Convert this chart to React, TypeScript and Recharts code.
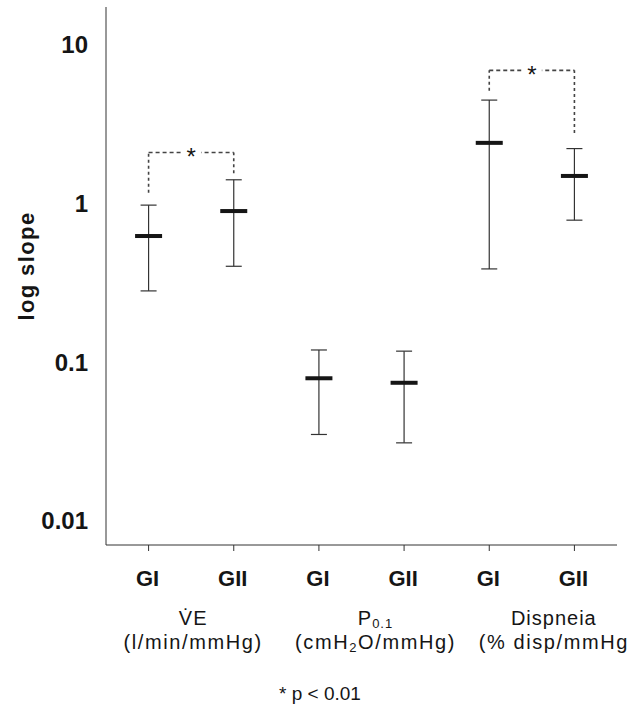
import { ComposedChart, Scatter, ErrorBar, XAxis, YAxis, ReferenceLine } from 'recharts';

// six boxes: GI / GII for each measure
const ids = ['ve-GI', 've-GII', 'p-GI', 'p-GII', 'd-GI', 'd-GII'];
const tickLabels = ['GI', 'GII', 'GI', 'GII', 'GI', 'GII'];
const medians = [0.62, 0.89, 0.079, 0.074, 2.39, 1.48];
const lowers = [0.28, 0.4, 0.035, 0.031, 0.385, 0.78];
const uppers = [0.97, 1.4, 0.119, 0.117, 4.44, 2.2];

// group captions (odd parts are subscripts)
const groupTitles = [['V\u0307E'], ['P', '0.1'], ['Dispneia']];
const groupUnits = [['(l/min/mmHg)'], ['(cmH', '2', 'O/mmHg)'], ['(% disp/mmHg']];

const yTicks = [0.01, 0.1, 1, 10];

// significance brackets
const bracketFrom = ['ve-GI', 'd-GI'];
const bracketTo = ['ve-GII', 'd-GII'];
const bracketTop = [2.08, 6.83];
const bracketLeftEnd = [1.16, 5.08];
const bracketRightEnd = [1.54, 2.76];

// captions sit a little right of the pair centre in the original
const captionShift = [2, 14, 22];

const data = ids.map((id, i) => ({
  id,
  median: medians[i],
  err: [medians[i] - lowers[i], uppers[i] - medians[i]],
}));

const FONT = '"Liberation Sans", Arial, Helvetica, sans-serif';
const INK = '#151515';

function parts(list: string[]) {
  return list.map((s, k) =>
    k % 2 === 1 ? (
      <tspan key={k} dy={3} fontSize={13}>{s}</tspan>
    ) : (
      <tspan key={k} dy={k > 0 ? -3 : 0}>{s}</tspan>
    )
  );
}

function CategoryTick(props: any) {
  const { x, y, payload } = props;
  const i = payload.index ?? props.index;
  const half = payload.offset || 42.6;
  const g = Math.floor(i / 2);
  const cx = x - half + captionShift[g];
  return (
    <g>
      <text x={x - 1} y={y + 33} textAnchor="middle" fontFamily={FONT} fontWeight="bold" fontSize={22} fill={INK}>
        {tickLabels[i]}
      </text>
      {i % 2 === 1 && (
        <g fontFamily={FONT} fontSize={20} fill={INK}>
          <text x={cx} y={y + 72} textAnchor="middle" letterSpacing={1}>{parts(groupTitles[g])}</text>
          <text x={cx} y={y + 96} textAnchor="middle" letterSpacing={1.6}>{parts(groupUnits[g])}</text>
        </g>
      )}
    </g>
  );
}

function Star(props: any) {
  const { viewBox } = props;
  const cx = viewBox.x + viewBox.width / 2;
  const cy = viewBox.y;
  return (
    <g>
      <rect x={cx - 10} y={cy - 4} width={20} height={8} fill="#fff" />
      <text x={cx} y={cy + 13} textAnchor="middle" fontFamily={FONT} fontSize={24} fill={INK}>*</text>
    </g>
  );
}

export default function App() {
  return (
    <div style={{ position: 'absolute', left: 0, top: 0, background: '#fff' }}>
      <ComposedChart width={633} height={708} data={data} margin={{ top: 7, right: 16, bottom: 13, left: 0 }}>
        <XAxis
          dataKey="id"
          scale="band"
          interval={0}
          height={150}
          tickSize={6}
          tickMargin={2}
          stroke="#333"
          tickLine={{ stroke: '#333' }}
          tick={<CategoryTick />}
          label={{
            content: (p: any) => (
              <text x={320} y={p.viewBox.y + 155} textAnchor="middle" fontFamily={FONT} fontSize={19} fill={INK}>
                * p &lt; 0.01
              </text>
            ),
          }}
        />
        <YAxis
          type="number"
          scale="log"
          domain={[0.00706, 17.1]}
          allowDataOverflow
          ticks={yTicks}
          width={106}
          tickLine={false}
          tickSize={0}
          tickMargin={18}
          stroke="#333"
          tick={{ fontFamily: FONT, fontWeight: 'bold', fontSize: 24, fill: INK }}
          label={{
            content: () => (
              <text
                x={34}
                y={266}
                transform="rotate(-90, 34, 266)"
                textAnchor="middle"
                fontFamily={FONT}
                fontWeight="bold"
                fontSize={22}
                letterSpacing={1.4}
                fill={INK}
              >
                log slope
              </text>
            ),
          }}
        />
        {bracketFrom.map((from, k) => (
          <ReferenceLine
            key={'l' + k}
            segment={[{ x: from, y: bracketLeftEnd[k] }, { x: from, y: bracketTop[k] }]}
            stroke="#444"
            strokeWidth={1.6}
            strokeDasharray="3 3"
          />
        ))}
        {bracketTo.map((to, k) => (
          <ReferenceLine
            key={'r' + k}
            segment={[{ x: to, y: bracketRightEnd[k] }, { x: to, y: bracketTop[k] }]}
            stroke="#444"
            strokeWidth={1.6}
            strokeDasharray="3 3"
          />
        ))}
        {bracketFrom.map((from, k) => (
          <ReferenceLine
            key={'h' + k}
            segment={[{ x: from, y: bracketTop[k] }, { x: bracketTo[k], y: bracketTop[k] }]}
            stroke="#444"
            strokeWidth={1.6}
            strokeDasharray="4 3"
            label={<Star />}
          />
        ))}
        <Scatter
          dataKey="median"
          isAnimationActive={false}
          shape={(p: any) => <rect x={p.cx - 13.5} y={p.cy - 2} width={27} height={4} fill={INK} />}
        >
          <ErrorBar dataKey="err" direction="y" width={8} stroke="#333" strokeWidth={1.2} />
        </Scatter>
      </ComposedChart>
    </div>
  );
}
